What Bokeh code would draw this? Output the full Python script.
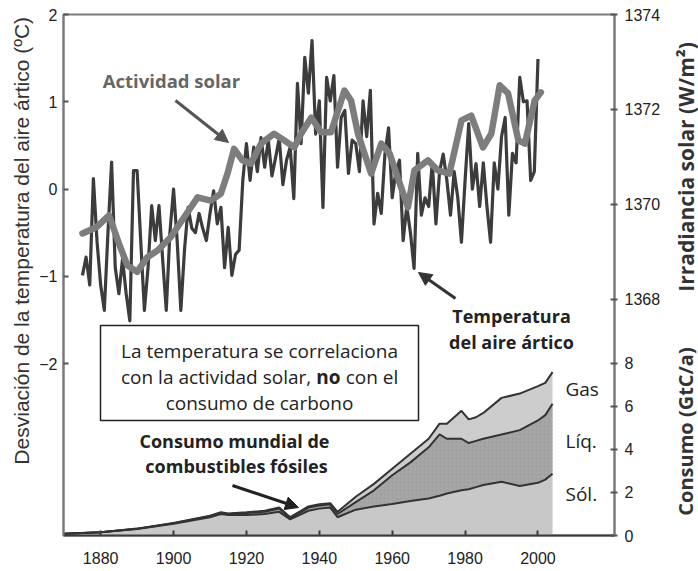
import numpy as np
from bokeh.plotting import figure
from bokeh.layouts import row
from bokeh.models import (Range1d, LinearAxis, FixedTicker, CustomJSTickFormatter,
                          Label, Arrow, NormalHead, BoxAnnotation)
from bokeh.embed import file_html
from bokeh.resources import INLINE

# ---------------- data ----------------
temp_years = list(range(1875, 2001))
temp_dev = [
    -0.99, -0.78, -1.10, 0.12, -0.60, -1.10, -1.39, -0.50, 0.31, -0.90,
    -1.20, -0.80, -1.20, -1.51, 0.21, 0.21, -0.60, -1.39, -0.90, -0.19,
    -0.59, -0.19, -0.80, -1.39, -0.50,
    0.00, -0.60, -1.39, -0.70, -0.21, -0.45, -0.50, -0.28, -0.45, -0.59,
    -0.28, -0.02, -0.40, -0.21, -0.90, -0.44, -0.99, -0.75, -0.70, 0.10,
    0.52, 0.10, 0.48, 0.20, 0.59,
    0.25, 0.56, 0.15, 0.36, 0.58, 0.05, 0.33, 0.48, -0.11, 1.21,
    0.52, 1.51, 1.10, 1.70, 0.63, 1.01, -0.21, 1.28, 1.01, 1.30,
    0.25, 0.82, 0.90, 0.18, 0.56,
    0.52, 0.20, 1.01, 0.60, 1.13, -0.40, -0.05, -0.28, 0.40, 0.70,
    -0.10, 0.20, 0.33, -0.59, -0.20, -0.50, -0.91, 0.41, -0.30, -0.10,
    -0.20, 0.30, -0.40, 0.20, 0.40,
    0.10, -0.30, 0.20, -0.10, -0.61, 0.10, 0.75, 0.00, 0.29, -0.20,
    0.30, -0.20, -0.61, 0.30, 0.00, 0.60, 0.82, -0.30, 0.41, 0.30,
    1.28, 1.00, 1.01, 0.10, 0.20, 1.49,
]

solar_years = [1875, 1878.8, 1882.3, 1885, 1887.3, 1890, 1892.8, 1895.6, 1899.2,
               1902.9, 1906.6, 1910.2, 1913, 1914.8, 1916.6, 1918.9, 1921.2, 1924,
               1927.6, 1930.4, 1933.1, 1935, 1937.8, 1940.5, 1943.2, 1946.9, 1948.7,
               1950.6, 1954.2, 1957, 1959.3, 1964.3, 1966.1, 1969.8, 1972.5, 1975.7,
               1979, 1981.7, 1984.9, 1987.2, 1989.5, 1991.8, 1994.6, 1996.4, 1999.1,
               2000.8]
solar_irr = [1369.39, 1369.52, 1369.77, 1369.18, 1368.72, 1368.58, 1368.89, 1369.03,
             1369.31, 1369.73, 1370.15, 1370.08, 1370.23, 1370.65, 1371.17, 1370.93,
             1370.86, 1371.28, 1371.49, 1371.35, 1371.20, 1371.49, 1371.83, 1371.52,
             1371.52, 1372.40, 1372.19, 1371.49, 1370.65, 1371.28, 1371.07, 1369.94,
             1370.72, 1370.93, 1370.72, 1370.65, 1371.77, 1371.87, 1371.20, 1371.49,
             1372.51, 1372.34, 1371.35, 1371.28, 1372.19, 1372.36]

fuel_years = [1870, 1880, 1890, 1900, 1910, 1913, 1915, 1920, 1925, 1929, 1932, 1937,
              1940, 1943, 1945, 1950, 1955, 1960, 1965, 1970, 1973, 1975, 1979, 1981,
              1983, 1985, 1990, 1995, 2000, 2002, 2004]
# stacked boundaries (GtC/a)
solid_top = [0.08, 0.15, 0.30, 0.55, 0.85, 1.00, 0.95, 0.95, 1.00, 1.10, 0.75, 1.15,
             1.25, 1.30, 0.85, 1.20, 1.35, 1.47, 1.60, 1.72, 1.85, 1.95, 2.10, 2.15,
             2.25, 2.35, 2.50, 2.30, 2.45, 2.60, 2.87]
liquid_top = [0.08, 0.15, 0.31, 0.57, 0.90, 1.05, 1.00, 1.05, 1.10, 1.25, 0.80, 1.30,
              1.40, 1.45, 1.00, 1.55, 2.10, 2.80, 3.40, 4.10, 4.70, 4.50, 4.50, 4.30,
              4.40, 4.50, 4.70, 4.90, 5.35, 5.60, 6.13]
gas_top = [0.08, 0.15, 0.32, 0.58, 0.92, 1.08, 1.02, 1.08, 1.15, 1.30, 0.85, 1.35,
           1.45, 1.50, 1.10, 1.80, 2.40, 3.10, 3.80, 4.50, 5.20, 5.20, 5.80, 5.40,
           5.50, 5.70, 6.40, 6.60, 6.95, 7.10, 7.60]

x_ticks = [1880, 1900, 1920, 1940, 1960, 1980, 2000]
temp_ticks = [-2, -1, 0, 1, 2]
irr_ticks = [1368, 1370, 1372, 1374]
cons_ticks = [0, 2, 4, 6, 8]

# ---------------- ranges / frame ----------------
X0, X1 = 1869.8, 2021.0
T0, T1 = -3.97, 2.0
I0, I1 = 1363.03, 1374.0
C0, C1 = 0.0, 24.23
W, H = 698, 571
LW, RW = 34, 30          # side strips for the axis titles
FW, FH = 551, 521
FL, FT = 63, 14          # frame left/top in page pixels

def px(xp):
    return X0 + (xp - FL) / FW * (X1 - X0)

def py(yp):
    return T1 - (yp - FT) / FH * (T1 - T0)

p = figure(frame_width=FW, frame_height=FH, output_backend="svg", toolbar_location=None,
           x_range=Range1d(X0, X1), y_range=Range1d(T0, T1),
           min_border_left=FL - LW, min_border_top=FT,
           min_border_right=W - LW - RW - (FL - LW) - FW, min_border_bottom=H - FT - FH)
p.extra_y_ranges = {"irr": Range1d(I0, I1), "cons": Range1d(C0, C1)}
p.grid.visible = False
p.background_fill_color = "white"
p.border_fill_color = "white"
p.outline_line_color = "#7a7a7a"
p.outline_line_width = 2

TICK_FONT = "Liberation Sans"

xa = p.xaxis[0]
xa.ticker = FixedTicker(ticks=x_ticks)
xa.major_label_text_font = TICK_FONT
xa.major_label_text_font_size = "16px"
xa.major_label_text_color = "#222"
xa.axis_line_color = "#3a3a3a"
xa.axis_line_width = 2
xa.major_tick_in = 5
xa.major_tick_out = 0
xa.major_tick_line_color = "#3a3a3a"
xa.major_tick_line_width = 2
xa.minor_tick_line_color = None
xa.major_label_standoff = 16

ya = p.yaxis[0]
ya.ticker = FixedTicker(ticks=temp_ticks)
ya.formatter = CustomJSTickFormatter(code="return tick < 0 ? '\u2212' + Math.abs(tick) : String(tick);")
ya.major_label_text_font = TICK_FONT
ya.major_label_text_font_size = "16px"
ya.major_label_text_color = "#222"
ya.axis_line_color = "#7a7a7a"
ya.axis_line_width = 2
ya.major_tick_in = 5
ya.major_tick_out = 0
ya.major_tick_line_color = "#555"
ya.major_tick_line_width = 2
ya.minor_tick_line_color = None
ya.major_label_standoff = 6

cons_as_irr = [I0 + (c - C0) / (C1 - C0) * (I1 - I0) for c in cons_ticks]
ra = LinearAxis(y_range_name="irr")
ra.ticker = FixedTicker(ticks=irr_ticks + cons_as_irr)
ra.formatter = CustomJSTickFormatter(
    args=dict(i0=I0, i1=I1, c0=C0, c1=C1),
    code="if (tick > 1367) { return tick.toFixed(0); } "
         "return Math.round(c0 + (tick - i0) / (i1 - i0) * (c1 - c0)).toString();")
ra.major_label_text_font = TICK_FONT
ra.major_label_text_font_size = "16px"
ra.major_label_text_color = "#222"
ra.axis_line_color = "#7a7a7a"
ra.axis_line_width = 2
ra.major_tick_in = 4
ra.major_tick_out = 3
ra.major_tick_line_color = "#555"
ra.major_tick_line_width = 2
ra.minor_tick_line_color = None
ra.major_label_standoff = 7
p.add_layout(ra, "right")

# ---------------- consumption areas ----------------
zeros = [0.0] * len(fuel_years)
p.varea(x=fuel_years, y1=zeros, y2=solid_top, y_range_name="cons", fill_color="#c8c8c8")
p.varea(x=fuel_years, y1=solid_top, y2=liquid_top, y_range_name="cons", fill_color="#a6a6a6",
        hatch_pattern="dot", hatch_color="#959595", hatch_scale=4, hatch_alpha=0.6)
p.varea(x=fuel_years, y1=liquid_top, y2=gas_top, y_range_name="cons", fill_color="#cdcdcd")
for ys in (solid_top, liquid_top, gas_top):
    p.line(fuel_years, ys, y_range_name="cons", line_color="#333333", line_width=2)

# ---------------- temperature + solar ----------------
p.line(temp_years, temp_dev, line_color="#3c3c3c", line_width=3.2, line_join="round")
p.line(solar_years, solar_irr, y_range_name="irr", line_color="#7d7d7d", line_width=6.5,
       line_join="round", line_cap="round")

# ---------------- annotations ----------------
BOLD = "Open Sans"

def lab(fig, text, x, y, size="18px", color="#222", style="normal", align="center",
        font=BOLD, angle=0.0):
    fig.add_layout(Label(x=x, y=y, text=text, text_font=font,
                         text_font_size=size, text_color=color, text_font_style=style,
                         text_align=align, text_baseline="middle", angle=angle))

def plab(text, xp, yp, **kw):
    lab(p, text, px(xp), py(yp), **kw)

plab("Actividad solar", 171, 80, size="18.5px", color="#666", style="bold")
p.add_layout(Arrow(end=NormalHead(size=13, fill_color="#555", line_color="#555"),
                   x_start=px(175), y_start=py(100), x_end=px(228), y_end=py(142),
                   line_color="#555", line_width=3))

plab("Temperatura", 511, 315, style="bold")
plab("del aire ártico", 511, 341, style="bold")
p.add_layout(Arrow(end=NormalHead(size=13, fill_color="#333", line_color="#333"),
                   x_start=px(455), y_start=py(298), x_end=px(418), y_end=py(272),
                   line_color="#333", line_width=3))

p.add_layout(BoxAnnotation(left=px(100), right=px(418), top=py(325), bottom=py(420),
                           fill_color="white", fill_alpha=1.0, line_color="#222",
                           line_alpha=1.0, line_width=1.5))
plab("La temperatura se correlaciona", 259, 350, size="19px")
plab("con la actividad solar,", 120.5, 376, size="19px", align="left")
plab("no", 315.8, 376, size="19px", style="bold", align="left")
plab("con el", 345.2, 376, size="19px", align="left")
plab("consumo de carbono", 259, 402, size="19px")

plab("Consumo mundial de", 234, 440, style="bold")
plab("combustibles fósiles", 236, 465, style="bold")
p.add_layout(Arrow(end=NormalHead(size=13, fill_color="#222", line_color="#222"),
                   x_start=px(232), y_start=py(485), x_end=px(298), y_end=py(507),
                   line_color="#222", line_width=3))

plab("Gas", 565, 388, size="19px", align="left")
plab("Líq.", 565, 440, size="19px", align="left")
plab("Sól.", 565, 493, size="19px", align="left")

# ---------------- side strips with the axis titles ----------------
def strip(w):
    f = figure(width=w, height=H, x_range=Range1d(0, w), y_range=Range1d(H, 0),
               output_backend="svg", toolbar_location=None,
               x_axis_location=None, y_axis_location=None,
               min_border_left=0, min_border_right=0, min_border_top=0, min_border_bottom=0)
    f.outline_line_color = None
    f.grid.visible = False
    f.background_fill_color = "white"
    f.border_fill_color = "white"
    return f

q1 = strip(LW)
lab(q1, "Desviación de la temperatura del aire ártico (ºC)", 21, 248, size="21px",
    color="#333", font="Liberation Sans", angle=np.pi / 2)
q2 = strip(RW)
rx = 685 - (W - RW)
lab(q2, "Irradiancia solar (W/m²)", rx, 167, size="21px", color="#333", style="bold",
    angle=np.pi / 2)
lab(q2, "Consumo (GtC/a)", rx, 457, size="20px", color="#333", style="bold",
    angle=np.pi / 2)

layout = row(q1, p, q2, spacing=0)
open("out.html", "w").write(file_html(layout, INLINE))
